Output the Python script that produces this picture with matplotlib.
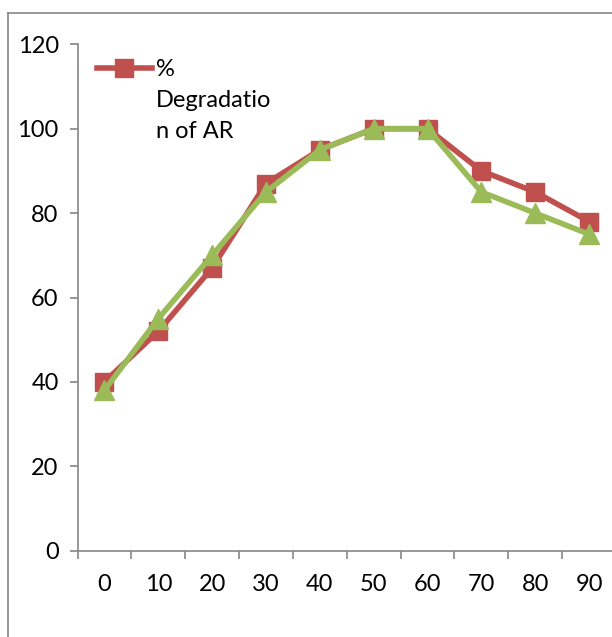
import matplotlib
matplotlib.use("Agg")
import matplotlib.pyplot as plt
from matplotlib.lines import Line2D
import numpy as np

# Temperature categories and degradation values (%)
categories = ["0", "10", "20", "30", "40", "50", "60", "70", "80", "90"]
degradation_ar = [40, 52, 67, 87, 95, 100, 100, 90, 85, 78]
degradation_2 = [38, 55, 70, 85, 95, 100, 100, 85, 80, 75]
y_ticks = [0, 20, 40, 60, 80, 100, 120]
legend_label = "%\nDegradatio\nn of AR"

red = "#C0504D"
green = "#9BBB59"
axis_gray = "#868686"

plt.rcParams["font.family"] = ["Lato", "DejaVu Sans"]

W, H = 612, 637
fig = plt.figure(figsize=(W / 100, H / 100), dpi=100)
# plot area runs a little past the right edge of the canvas
ax = fig.add_axes([77.5 / W, (H - 550.7) / H, 538.5 / W, (550.7 - 44.3) / H])

x = np.arange(len(categories))
ax.plot(x, degradation_ar, color=red, lw=4, marker="s", ms=13, zorder=3,
        clip_on=False)
ax.plot(x, degradation_2, color=green, lw=4, marker="^", ms=15, zorder=4,
        clip_on=False)

ax.set_ylim(0, 120)
ax.set_yticks(y_ticks)
ax.set_xlim(-0.5, len(categories) - 0.5)
ax.set_xticks(x)
ax.set_xticklabels(categories)
ax.set_xticks(np.arange(-0.5, len(categories)), minor=True)

for side in ("top", "right"):
    ax.spines[side].set_visible(False)
for side in ("left", "bottom"):
    ax.spines[side].set_color(axis_gray)
    ax.spines[side].set_linewidth(1.2)

ax.tick_params(axis="y", direction="out", length=5.5, width=1.2, color=axis_gray,
               labelsize=17, pad=8)
ax.tick_params(axis="x", which="major", length=0, labelsize=17, pad=17)
ax.tick_params(axis="x", which="minor", direction="out", length=5.5, width=1.2,
               color=axis_gray)

# legend entry for the first series, key on the first text line
fig.add_artist(Line2D([97 / W, 152 / W], [(H - 68) / H] * 2, color=red, lw=4,
                      transform=fig.transFigure))
fig.add_artist(Line2D([124 / W], [(H - 68) / H], color=red, marker="s", ms=13,
                      transform=fig.transFigure))
fig.text(156 / W, (H - 59) / H, legend_label, fontsize=17, va="top", ha="left",
         linespacing=1.6)

# chart border
fig.add_artist(Line2D([8.3 / W, 8.3 / W], [0, (H - 13.3) / H], color=axis_gray,
                      lw=1.2, transform=fig.transFigure))
fig.add_artist(Line2D([8.3 / W, 1], [(H - 13.3) / H, (H - 13.3) / H],
                      color=axis_gray, lw=1.2, transform=fig.transFigure))

fig.savefig("out.png", dpi=100)
